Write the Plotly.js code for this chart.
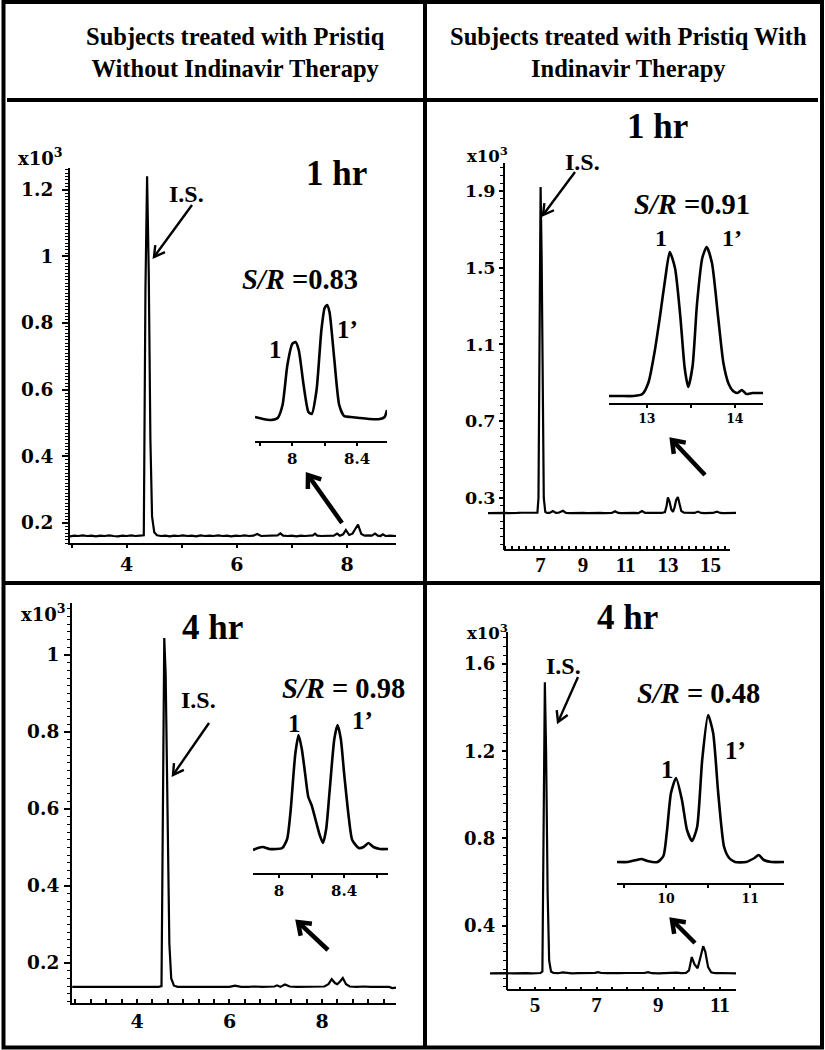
<!DOCTYPE html>
<html><head><meta charset="utf-8">
<script src="https://cdn.plot.ly/plotly-3.0.1.min.js"></script>
<style>html,body{margin:0;padding:0;background:#fff}#chart{width:825px;height:1050px}</style>
</head><body><div id="chart"></div>
<script>
// ---------- DATA (retention time in min, intensity in x10^3) ----------
// Panel A: 1 hr, without Indinavir
const A_time = [2.97,3.05,3.12,3.2,3.28,3.36,3.44,3.52,3.6,3.68,3.76,3.84,3.92,4.0,4.08,4.16,4.24,4.31,4.34,4.37,4.40,4.43,4.46,4.50,4.55,4.62,4.7,4.78,4.86,4.94,5.02,5.1,5.18,5.26,5.34,5.42,5.5,5.58,5.66,5.74,5.82,5.9,5.98,6.06,6.14,6.22,6.3,6.37,6.44,6.52,6.6,6.68,6.74,6.79,6.84,6.92,7.0,7.08,7.16,7.24,7.32,7.38,7.42,7.46,7.54,7.62,7.7,7.76,7.82,7.87,7.93,7.98,8.04,8.1,8.15,8.2,8.26,8.32,8.38,8.45,8.51,8.56,8.61,8.65,8.7,8.78,8.89];
const A_int = [0.160,0.162,0.161,0.163,0.161,0.162,0.160,0.162,0.161,0.163,0.161,0.160,0.162,0.161,0.163,0.161,0.162,0.163,0.90,1.24,0.95,0.45,0.22,0.172,0.163,0.161,0.162,0.160,0.162,0.161,0.163,0.161,0.162,0.160,0.163,0.161,0.162,0.161,0.163,0.161,0.162,0.160,0.162,0.161,0.163,0.161,0.162,0.167,0.161,0.162,0.161,0.162,0.163,0.169,0.162,0.161,0.162,0.160,0.162,0.161,0.162,0.163,0.168,0.162,0.161,0.162,0.161,0.162,0.168,0.162,0.166,0.179,0.164,0.168,0.182,0.195,0.167,0.162,0.163,0.162,0.168,0.162,0.161,0.166,0.161,0.162,0.161];
// Panel B: 1 hr, with Indinavir
const B_time = [4.52,4.7,4.9,5.1,5.3,5.5,5.7,5.9,6.1,6.3,6.5,6.7,6.85,6.9,6.95,7.0,7.05,7.1,7.15,7.22,7.3,7.42,7.58,7.72,7.85,8.05,8.2,8.4,8.6,8.8,9.0,9.2,9.4,9.6,9.8,10.0,10.2,10.35,10.5,10.65,10.8,11.0,11.2,11.4,11.6,11.77,11.92,12.1,12.3,12.5,12.7,12.85,12.93,12.99,13.07,13.15,13.23,13.3,13.38,13.46,13.54,13.62,13.75,13.9,14.1,14.25,14.4,14.55,14.7,14.9,15.1,15.3,15.45,15.6,15.8,16.0,16.2];
const B_int = [0.221,0.222,0.221,0.223,0.222,0.221,0.223,0.222,0.223,0.222,0.224,0.222,0.223,0.30,1.20,1.92,1.55,0.70,0.30,0.228,0.222,0.222,0.232,0.222,0.223,0.233,0.222,0.221,0.222,0.223,0.222,0.221,0.222,0.224,0.222,0.221,0.222,0.222,0.231,0.222,0.221,0.222,0.223,0.222,0.221,0.232,0.222,0.221,0.222,0.223,0.222,0.226,0.26,0.303,0.28,0.24,0.228,0.25,0.29,0.305,0.27,0.232,0.223,0.222,0.221,0.222,0.229,0.222,0.221,0.222,0.222,0.229,0.222,0.221,0.222,0.221,0.222];
// Panel C: 4 hr, without Indinavir
const C_time = [2.6,2.7,2.85,3.0,3.15,3.3,3.45,3.6,3.75,3.9,4.05,4.2,4.35,4.47,4.53,4.56,4.59,4.62,4.66,4.7,4.74,4.8,4.88,4.95,5.1,5.25,5.4,5.55,5.7,5.85,6.0,6.12,6.25,6.4,6.55,6.7,6.85,6.97,7.03,7.1,7.2,7.3,7.45,7.6,7.75,7.9,8.05,8.14,8.21,8.28,8.33,8.39,8.45,8.52,8.6,8.75,8.9,9.05,9.2,9.35,9.45,9.52,9.6];
const C_int = [0.138,0.138,0.139,0.138,0.138,0.139,0.138,0.139,0.138,0.138,0.139,0.138,0.138,0.138,0.140,0.60,1.044,0.95,0.55,0.25,0.16,0.141,0.138,0.138,0.138,0.139,0.138,0.138,0.138,0.139,0.138,0.141,0.138,0.138,0.139,0.138,0.138,0.139,0.142,0.138,0.144,0.139,0.138,0.138,0.139,0.138,0.139,0.145,0.158,0.148,0.145,0.152,0.161,0.145,0.139,0.138,0.139,0.138,0.138,0.139,0.138,0.135,0.136];
// Panel D: 4 hr, with Indinavir
const D_time = [3.54,3.7,3.9,4.1,4.3,4.5,4.7,4.9,5.05,5.18,5.24,5.28,5.32,5.36,5.41,5.46,5.52,5.6,5.75,5.9,6.05,6.2,6.4,6.6,6.8,6.95,7.05,7.15,7.35,7.55,7.75,7.95,8.15,8.35,8.55,8.67,8.8,9.0,9.2,9.4,9.6,9.75,9.9,10.0,10.09,10.18,10.28,10.38,10.46,10.53,10.62,10.72,10.85,11.0,11.15,11.3,11.42,11.53];
const D_int = [0.181,0.182,0.183,0.182,0.181,0.183,0.182,0.181,0.182,0.183,0.19,0.90,1.517,1.20,0.55,0.24,0.19,0.183,0.182,0.186,0.182,0.181,0.182,0.183,0.182,0.184,0.187,0.183,0.182,0.181,0.182,0.183,0.182,0.181,0.183,0.187,0.182,0.181,0.182,0.183,0.185,0.182,0.183,0.195,0.256,0.222,0.205,0.26,0.306,0.28,0.21,0.186,0.182,0.183,0.182,0.181,0.182,0.181];

// Insets (enlarged enantiomer peaks 1 / 1', relative intensity above baseline)
const Ai_time = [7.77,7.82,7.87,7.91,7.94,7.97,8.0,8.02,8.04,8.07,8.1,8.12,8.15,8.18,8.2,8.215,8.23,8.26,8.29,8.32,8.36,8.42,8.48,8.54,8.57,8.585];
const Ai_int = [3,1,0,2,15,55,76,78,70,35,8,6,30,90,112,115,108,60,15,4,3,2,1,1,3,10];
const Bi_time = [12.57,12.7,12.85,12.95,13.02,13.09,13.15,13.21,13.26,13.32,13.38,13.43,13.47,13.52,13.57,13.63,13.68,13.74,13.81,13.87,13.93,13.98,14.03,14.08,14.13,14.2,14.32];
const Bi_int = [0,0,0,2,14,45,80,118,144,128,80,28,9,30,92,138,149,133,79,33,12,5,3,6,2,3,3];
const Ci_time = [7.84,7.87,7.9,7.94,7.98,8.02,8.05,8.07,8.1,8.12,8.14,8.16,8.18,8.2,8.23,8.25,8.27,8.29,8.31,8.34,8.36,8.38,8.4,8.43,8.45,8.49,8.52,8.55,8.58,8.62,8.67];
const Ci_int = [-1,1,2,0,0,1,10,36,95,114,100,76,52,44,26,14,6,20,56,110,124,110,76,30,9,1,2,6,2,0,0];
const Di_time = [9.42,9.55,9.65,9.71,9.78,9.9,9.97,10.01,10.06,10.12,10.19,10.25,10.31,10.37,10.43,10.5,10.56,10.62,10.69,10.75,10.82,10.95,11.05,11.1,11.16,11.25,11.4];
const Di_int = [0,0,2,3,1,0,6,29,69,84,62,32,21,35,102,147,129,69,15,4,0,0,4,7,2,0,0];

// Tick labels
const A_yticks = [0.2,0.4,0.6,0.8,1,1.2];
const B_yticks = [0.3,0.7,1.1,1.5,1.9];
const C_yticks = [0.2,0.4,0.6,0.8,1];
const D_yticks = [0.4,0.8,1.2,1.6];
const A_xticks = [4,6,8];
const B_xticks = [7,9,11,13,15];
const C_xticks = [4,6,8];
const D_xticks = [5,7,9,11];
const Ai_xticks = [8,8.4];
const Bi_xticks = [13,14];
const Ci_xticks = [8,8.4];
const Di_xticks = [10,11];

// Text
const headers = ['Subjects treated with Pristiq<br>Without Indinavir Therapy','Subjects treated with Pristiq With<br>Indinavir Therapy'];
const times = ['1 hr','1 hr','4 hr','4 hr'];
const ratios = ['0.83','0.91','0.98','0.48'];

// ---------- LAYOUT HELPERS ----------
const W = 825, H = 1050, K = '#000';
const X = p => p / W;
const Y = p => 1 - p / H;
const dom = (a, b) => [a / W, b / W];
const vdom = (top, bottom) => [1 - bottom / H, 1 - top / H];
const lab = v => v.map(String);
const fDV = (s) => ({family: 'DejaVu Serif', size: s, color: K, weight: 'bold'});
const fTimes = (s) => ({family: 'Liberation Serif', size: s, color: K, weight: 'bold'});
const base = {showgrid: false, zeroline: false, automargin: false, fixedrange: true, linecolor: K, linewidth: 2, tickcolor: K};

function rangeTicks(a, b, step) { const out = []; for (let v = a; v <= b + 1e-9; v += step) out.push(+v.toFixed(4)); return out; }

const line = (x, y, xa, ya, w) => ({x, y, xaxis: xa, yaxis: ya, type: 'scatter', mode: 'lines', line: {color: K, width: w}, hoverinfo: 'skip'});
const sline = (x, y, xa, ya) => ({x, y, xaxis: xa, yaxis: ya, type: 'scatter', mode: 'lines', line: {color: K, width: 2.6, shape: 'spline', smoothing: 0.6}, hoverinfo: 'skip'});

const traces = [
  line(A_time, A_int, 'x', 'y', 2.2),
  line(B_time, B_int, 'x2', 'y2', 2.2),
  line(C_time, C_int, 'x3', 'y3', 2.2),
  line(D_time, D_int, 'x4', 'y4', 2.2),
  sline(Ai_time, Ai_int, 'x5', 'y5'),
  sline(Bi_time, Bi_int, 'x6', 'y6'),
  sline(Ci_time, Ci_int, 'x7', 'y7'),
  sline(Di_time, Di_int, 'x8', 'y8')
];

function insetX(domain, range, anchor, ticks, fs, t0, dt) {
  return Object.assign({}, base, {domain, range, anchor, showline: true, ticks: 'outside', ticklen: 3, tickwidth: 2,
    tickmode: 'array', tickvals: ticks, ticktext: lab(ticks), tickfont: fDV(fs),
    minor: {tickmode: 'linear', tick0: t0, dtick: dt, ticks: 'outside', ticklen: 3, tickwidth: 2, tickcolor: K}});
}
function insetY(domain, range, anchor) { return Object.assign({}, base, {domain, range, anchor, visible: false}); }

const layout = {
  width: W, height: H, margin: {l: 0, r: 0, t: 0, b: 0},
  paper_bgcolor: '#fff', plot_bgcolor: 'rgba(0,0,0,0)', showlegend: false, hovermode: false,
  // Panel A
  xaxis: Object.assign({}, base, {domain: dom(70, 396), range: [2.97, 8.89], anchor: 'y', showline: true,
    ticks: 'outside', ticklen: 3, tickwidth: 2, tickmode: 'array', tickvals: A_xticks, ticktext: lab(A_xticks), tickfont: fDV(19),
    minor: {tickmode: 'linear', tick0: 3, dtick: 1, ticks: 'outside', ticklen: 3, tickwidth: 2, tickcolor: K}}),
  yaxis: Object.assign({}, base, {domain: vdom(168, 543), range: [0.14, 1.265], anchor: 'x', showline: true,
    ticks: 'outside', ticklen: 6, tickwidth: 2, tickmode: 'array', tickvals: A_yticks, ticktext: lab(A_yticks), tickfont: fDV(18.5), ticklabelstandoff: 5,
    minor: {tickmode: 'linear', tick0: 0, dtick: 0.01, ticks: 'outside', ticklen: 3, tickwidth: 1, tickcolor: K}}),
  // Panel B
  xaxis2: Object.assign({}, base, {domain: dom(488, 736), range: [4.525, 16.195], anchor: 'y2', showline: false,
    ticks: 'inside', ticklen: 4, tickwidth: 2, tickmode: 'array', tickvals: B_xticks, ticktext: lab(B_xticks), tickfont: fTimes(21),
    minor: {tickmode: 'array', tickvals: rangeTicks(5 + 1/3, 15.9, 1/3), ticks: 'inside', ticklen: 4, tickwidth: 2, tickcolor: K}}),
  yaxis2: Object.assign({}, base, {domain: vdom(163, 550), range: [0.029, 2.045], anchor: 'free', position: X(504), showline: true,
    ticks: 'outside', ticklen: 4, tickwidth: 2, tickmode: 'array', tickvals: B_yticks, ticktext: lab(B_yticks), tickfont: fDV(17.5), ticklabelstandoff: 0,
    minor: {tickmode: 'linear', tick0: 0.3, dtick: 0.04, ticks: 'outside', ticklen: 3, tickwidth: 1, tickcolor: K}}),
  // Panel C
  xaxis3: Object.assign({}, base, {domain: dom(72, 396), range: [2.595, 9.6], anchor: 'y3', showline: true,
    ticks: 'inside', ticklen: 4, tickwidth: 2, tickmode: 'array', tickvals: C_xticks, ticktext: lab(C_xticks), tickfont: fDV(19),
    minor: {tickmode: 'linear', tick0: 4, dtick: 1/3, ticks: 'inside', ticklen: 4, tickwidth: 2, tickcolor: K}}),
  yaxis3: Object.assign({}, base, {domain: vdom(603, 1003), range: [0.0961, 1.135], anchor: 'x3', showline: true,
    ticks: 'outside', ticklen: 6, tickwidth: 2, tickmode: 'array', tickvals: C_yticks, ticktext: lab(C_yticks), tickfont: fDV(18.5), ticklabelstandoff: 1,
    minor: {tickmode: 'linear', tick0: 0, dtick: 0.02, ticks: 'outside', ticklen: 3, tickwidth: 1, tickcolor: K}}),
  // Panel D
  xaxis4: Object.assign({}, base, {domain: dom(490, 736), range: [3.539, 11.526], anchor: 'y4', showline: false,
    ticks: 'inside', ticklen: 3, tickwidth: 2, tickmode: 'array', tickvals: D_xticks, ticktext: lab(D_xticks), tickfont: fTimes(21),
    minor: {tickmode: 'array', tickvals: rangeTicks(4.5, 11.5, 0.5), ticks: 'inside', ticklen: 3, tickwidth: 2, tickcolor: K}}),
  yaxis4: Object.assign({}, base, {domain: vdom(632, 990), range: [0.105, 1.747], anchor: 'free', position: X(507), showline: true,
    ticks: 'outside', ticklen: 4, tickwidth: 2, tickmode: 'array', tickvals: D_yticks, ticktext: lab(D_yticks), tickfont: fDV(18), ticklabelstandoff: 3,
    minor: {tickmode: 'linear', tick0: 0, dtick: 0.04, ticks: 'outside', ticklen: 3, tickwidth: 1, tickcolor: K}}),
  // Insets
  xaxis5: insetX(dom(255, 387), [7.77, 8.585], 'y5', Ai_xticks, 15, 7.8, 0.2),
  yaxis5: insetY(vdom(300, 441), [-21, 120], 'x5'),
  xaxis6: insetX(dom(609, 763), [12.57, 14.32], 'y6', Bi_xticks, 12.5, 12.5, 0.5),
  yaxis6: insetY(vdom(240, 403), [-7, 156], 'x6'),
  xaxis7: insetX(dom(253, 388), [7.84, 8.67], 'y7', Ci_xticks, 15, 7.8, 0.2),
  yaxis7: insetY(vdom(720, 873), [-24, 129], 'x7'),
  xaxis8: insetX(dom(617, 784), [9.42, 11.4], 'y8', Di_xticks, 12.5, 9.5, 0.5),
  yaxis8: insetY(vdom(710, 883), [-21, 152], 'x8'),
  shapes: [],
  annotations: []
};

// frame
const L = (x0, y0, x1, y1, w) => ({type: 'line', xref: 'paper', yref: 'paper', x0: X(x0), y0: Y(y0), x1: X(x1), y1: Y(y1), line: {color: K, width: w}});
layout.shapes.push({type: 'rect', xref: 'paper', yref: 'paper', x0: X(3.5), y0: Y(1047.5), x1: X(822), y1: Y(2), line: {color: K, width: 4}});
layout.shapes.push(L(7, 100, 818, 100, 4));
layout.shapes.push(L(425, 2, 425, 1047, 4));
layout.shapes.push(L(3, 583, 822, 583, 4));
layout.shapes.push(L(504, 550, 730, 550, 2));
layout.shapes.push(L(507, 990, 736, 990, 2));

// text
const T = (txt, x, y, font, xanchor) => ({text: txt, x: X(x), y: Y(y), xref: 'paper', yref: 'paper', showarrow: false, font, xanchor: xanchor || 'center', yanchor: 'middle', borderpad: 0});
const ann = layout.annotations;
ann.push(T(headers[0], 235, 53, fTimes(24.5)));
ann.push(T(headers[1], 628, 53, fTimes(24.5)));
const tl = [[336, 173], [657, 127], [212, 627], [627, 617]];
const isl = [[186, 194], [582, 162], [198, 700], [563, 666]];
const srl = [[300, 280], [692, 205], [343, 688], [698, 693]];
const sep = [' =', ' =', ' = ', ' = '];
const one = [[275, 350], [661, 238], [294, 723], [667, 769]];
const onep = [[347, 329], [732, 238], [362, 720], [735, 750]];
const oneSize = [25, 24, 25, 25];
const x10 = [[17, 157, 18], [466, 155, 16.5], [20, 613, 18], [466, 632, 16.5]];
for (let i = 0; i < 4; i++) {
  ann.push(T(times[i], tl[i][0], tl[i][1], fTimes(35)));
  ann.push(T('I.S.', isl[i][0], isl[i][1], fTimes(24)));
  ann.push(T('<i>S/R</i>' + sep[i] + ratios[i], srl[i][0], srl[i][1], fTimes(28.5)));
  ann.push(T('1', one[i][0], one[i][1], fTimes(oneSize[i])));
  ann.push(T('1\u2019', onep[i][0], onep[i][1], fTimes(oneSize[i])));
  ann.push(T('x10<sup>3</sup>', x10[i][0], x10[i][1], fDV(x10[i][2]), 'left'));
}

// arrows drawn as shapes: [headX, headY, tailX, tailY] in pixels
const thin = [[154, 257, 192, 205], [543, 215, 575, 172], [173, 775, 209, 723], [558, 722, 578, 677]];
const thick = [[308, 475, 342, 523], [672, 440, 705, 475], [298, 922, 328, 950], [672, 920, 695, 943]];
function arrow(a, w, len, ang) {
  const [hx, hy, tx, ty] = a;
  const d = Math.hypot(hx - tx, hy - ty), ux = (hx - tx) / d, uy = (hy - ty) / d;
  const barb = s => [hx - len * (ux * Math.cos(s * ang) - uy * Math.sin(s * ang)), hy - len * (uy * Math.cos(s * ang) + ux * Math.sin(s * ang))];
  const b1 = barb(1), b2 = barb(-1);
  layout.shapes.push(L(tx, ty, hx - ux * w * 0.4, hy - uy * w * 0.4, w));
  layout.shapes.push({type: 'path', xref: 'paper', yref: 'paper', line: {color: K, width: w},
    path: `M${X(b1[0])},${Y(b1[1])} L${X(hx)},${Y(hy)} L${X(b2[0])},${Y(b2[1])}`});
}
thin.forEach(a => arrow(a, 2.4, 12, Math.PI / 6));
thick.forEach(a => arrow(a, 4.5, 14, Math.PI / 5));

Plotly.newPlot('chart', traces, layout, {staticPlot: true, displayModeBar: false});
</script></body></html>
